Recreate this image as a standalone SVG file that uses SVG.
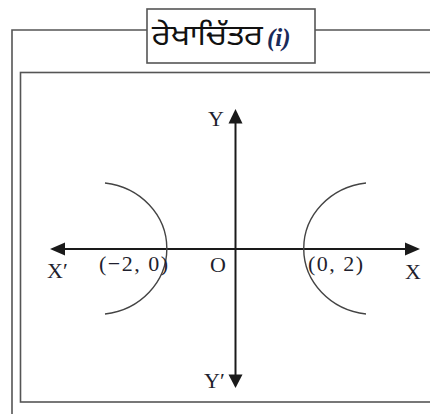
<svg xmlns="http://www.w3.org/2000/svg" width="430" height="414" viewBox="0 0 430 414">
<defs>
<style>
.frame{fill:none;stroke:#555;stroke-width:1.6}
.axis{stroke:#1a1a1a;stroke-width:2;fill:none}
.head{fill:#1a1a1a}
.curve{fill:none;stroke:#444;stroke-width:1.4}
.lbl{font-family:"Liberation Serif","Times New Roman",serif;font-size:22px;fill:#1f1f2e}
.title{font-family:"Noto Sans Gurmukhi","Noto Sans","DejaVu Sans",sans-serif;font-size:28px;fill:#111}
.ti{font-family:"Liberation Serif","Times New Roman",serif;font-size:25px;font-weight:bold;font-style:italic;fill:#1a2a5a}
</style>
</defs>
<rect width="430" height="414" fill="#fff"/>
<g id="frame">
<path class="frame" d="M147,30 H12 V414 M315,30 H430"/>
<rect class="frame" x="20.5" y="72.5" width="420" height="329.5"/>
</g>
<g id="title">
<rect class="frame" x="147" y="9" width="168" height="54" fill="#fff"/>
<text class="title" x="152" y="45" textLength="111" lengthAdjust="spacingAndGlyphs">ਰੇਖਾਚਿੱਤਰ</text>
<text class="ti" x="267" y="46">(i)</text>
</g>
<g id="connectors">
<line class="axis" x1="63" y1="249" x2="407" y2="249"/>
<line class="axis" x1="235.5" y1="121" x2="235.5" y2="377"/>
<polygon class="head" points="50,249 65,242.5 65,255.5"/>
<polygon class="head" points="420,249 405,242.5 405,255.5"/>
<polygon class="head" points="235.5,109 228.5,123.5 242.5,123.5"/>
<polygon class="head" points="235.5,388 228.5,374.5 242.5,374.5"/>
</g>
<g id="curves">
<path class="curve" d="M105,183 A70.5,66 0 0 1 105,314"/>
<path class="curve" d="M366,183 A71,66 0 0 0 366,314"/>
</g>
<g id="labels">
<text class="lbl" x="208" y="126">Y</text>
<text class="lbl" x="204" y="388">Y′</text>
<text class="lbl" x="47" y="278">X′</text>
<text class="lbl" x="405" y="279">X</text>
<text class="lbl" x="210" y="272">O</text>
<text class="lbl" x="99" y="271" textLength="69" lengthAdjust="spacing">(−2, 0)</text>
<text class="lbl" x="308" y="271" textLength="55" lengthAdjust="spacing">(0, 2)</text>
</g>
</svg>
